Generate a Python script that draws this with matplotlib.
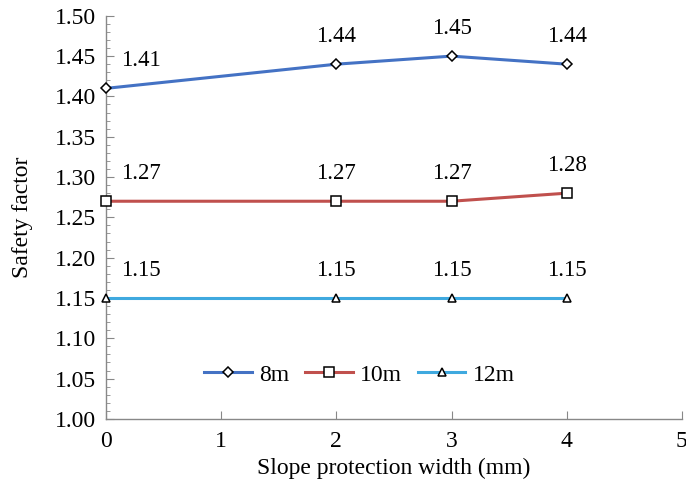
import matplotlib
matplotlib.use("Agg")
import matplotlib.pyplot as plt
from matplotlib.ticker import MultipleLocator

plt.rcParams['font.family'] = ['Liberation Serif', 'DejaVu Serif']

widths = [0, 2, 3, 4]
s8 = [1.41, 1.44, 1.45, 1.44]
s10 = [1.27, 1.27, 1.27, 1.28]
s12 = [1.15, 1.15, 1.15, 1.15]
labels = ['8m', '10m', '12m']
colors = ['#4472C4', '#C0504D', '#3FA9DF']
markers = ['D', 's', '^']
msizes = [5, 7, 5.5]

fig = plt.figure(figsize=(6.86, 4.94), dpi=100)
ax = fig.add_axes([0.1545, 0.152, 0.8395, 0.816])

for ys, lab, c, m, ms in zip([s8, s10, s12], labels, colors, markers, msizes):
    ax.plot(widths, ys, color=c, lw=2.2, marker=m, ms=ms, mfc='white',
            mec='black', mew=1.1, label=lab, clip_on=False, zorder=3)
    for x, y in zip(widths, ys):
        off = (25, 20) if x == 0 else (0, 20)
        ax.annotate(f'{y:.2f}', (x, y), xytext=off, textcoords='offset points',
                    ha='center', va='center', fontsize=16.5)

ax.set_xlim(0, 5)
ax.set_ylim(1.00, 1.50)
ax.xaxis.set_major_locator(MultipleLocator(1))
ax.yaxis.set_major_locator(MultipleLocator(0.05))
ax.yaxis.set_minor_locator(MultipleLocator(0.01))
ax.yaxis.set_major_formatter(plt.FormatStrFormatter('%.2f'))
for s in ['top', 'right']:
    ax.spines[s].set_visible(False)
for s in ['left', 'bottom']:
    ax.spines[s].set_color('#888888')
    ax.spines[s].set_linewidth(1.0)
ax.tick_params(axis='both', which='major', direction='in', length=6, color='#888888',
               labelsize=17)
ax.tick_params(axis='x', which='major', pad=9)
ax.tick_params(axis='y', which='major', pad=7)
ax.tick_params(axis='y', which='minor', direction='in', length=3, color='#888888')
ax.set_xlabel('Slope protection width (mm)', fontsize=17, labelpad=4)
ax.set_ylabel('Safety factor', fontsize=17, labelpad=16)

ax.legend(loc='center', bbox_to_anchor=(0.44, 0.109), ncol=3, frameon=False,
          fontsize=17, handlelength=2.0, columnspacing=0.7, handletextpad=0.3)

fig.savefig('out.png', dpi=100)
